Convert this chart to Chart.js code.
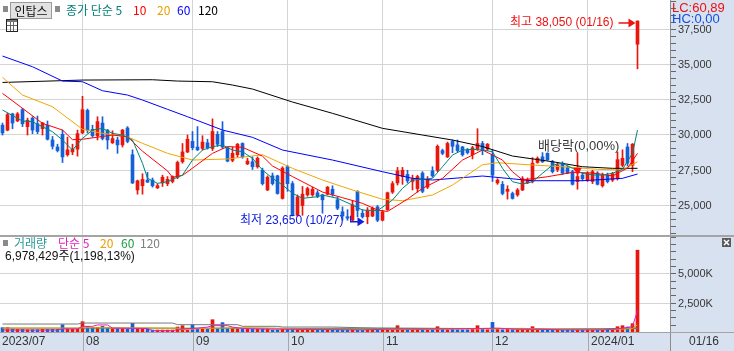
<!DOCTYPE html>
<html lang="ko">
<head>
<meta charset="UTF-8" />
<title>인탑스 일봉</title>
<style>
  html, body { margin: 0; padding: 0; background: #fff; }
  #wrap { position: relative; width: 734px; height: 351px; }
  canvas { display: block; }
</style>
</head>
<body>
<div id="wrap"><canvas id="chart" width="734" height="351"></canvas></div>

<script src="https://cdn.jsdelivr.net/npm/chart.js"></script>
<script>
  // ---- data ----
  const slotCount = 134; // 128 trading days + empty space on the right
  const monthIdx = [16, 38, 57, 76, 98, 117];
  const monthText = ['08', '09', '10', '11', '12', '2024/01'];
  const firstMonthText = '2023/07';
  const lastDateText = '01/16';

  const priceMin = 22780, priceMax = 39540;
  const priceTickStep = 500, priceLabelStep = 2500;
  const volMax = 8190; // thousands
  const volTickStep = 625, volLabels = [2500, 5000];

  const opens = [
    30650, 30300, 31450, 30950, 31750, 30550, 31150, 30750, 30400, 30650,
    29600, 29100, 30000, 28550, 28750, 28950, 30100, 31700, 30350, 29900,
    30800, 30300, 29400, 29600, 29250, 30450, 28550, 26050, 26350, 26750,
    26750, 26200, 26550, 26500, 26650, 26950, 28050, 28750, 29500, 29100,
    29000, 29400, 29000, 30000, 30200, 29050, 28150, 28550, 29350, 27900,
    28050, 27700, 27450, 26050, 27050, 27050, 25450, 27700, 26500, 24250,
    24950, 25700, 25700, 25850, 25700, 25750, 26100, 25350, 24500, 24150,
    23900, 25950, 24400, 24150, 24200, 24850, 23900, 24650, 25900, 26550,
    27000, 27150, 26650, 26150, 27250, 26250, 27400, 27450, 28850, 28400,
    29500, 29250, 29100, 28900, 28550, 28950, 29350, 28950, 28550, 26550,
    26450, 25950, 25800, 25700, 26050, 26550, 26650, 28000, 28400, 28650,
    28050, 27500, 27900, 27650, 27350, 26650, 27100, 26750, 26650, 27250,
    26350, 27100, 26750, 26850, 27800, 29100, 27800, 36400
  ];
  const highs = [
    30800, 31500, 31500, 31550, 31850, 31150, 31250, 31300, 30850, 30950,
    29850, 29300, 30300, 29800, 29300, 30300, 32700, 31800, 30650, 31250,
    31250, 30350, 30250, 29800, 30350, 30550, 28900, 26750, 27200, 27300,
    26900, 26500, 27100, 27000, 27050, 28100, 29350, 29950, 30200, 30550,
    29900, 29650, 31100, 30200, 30900, 29100, 29100, 29350, 29400, 28300,
    28400, 28400, 27600, 27050, 27250, 27100, 27700, 27800, 26650, 25700,
    26300, 26250, 26250, 26000, 25750, 26300, 26350, 25550, 24850, 24650,
    25300, 26000, 24650, 24800, 24850, 24950, 24600, 25900, 26650, 27650,
    27650, 27450, 27100, 27100, 27350, 27000, 27700, 29250, 28950, 29450,
    29600, 29600, 29150, 29000, 29150, 30400, 29500, 29350, 28900, 26850,
    26650, 26350, 25900, 26150, 27000, 26900, 28350, 28400, 28700, 28700,
    28150, 27950, 28050, 27750, 27450, 28650, 27250, 27350, 27450, 27350,
    27250, 27250, 27300, 28750, 28900, 29350, 29350, 38050
  ];
  const lows = [
    29950, 30250, 30400, 30900, 30550, 29950, 30050, 30050, 29950, 29600,
    28950, 28750, 28000, 28450, 28550, 28450, 30050, 30100, 29800, 29600,
    29600, 28950, 29350, 28650, 29100, 29400, 26500, 25750, 25750, 26600,
    26250, 26150, 26300, 26350, 26550, 26850, 27950, 28700, 28900, 28850,
    28900, 28950, 28850, 29150, 29000, 28050, 28050, 28400, 28300, 27850,
    27500, 27600, 26400, 26000, 26400, 25750, 25400, 25950, 24200, 24200,
    24250, 25600, 25600, 25500, 24400, 25700, 25600, 24650, 23900, 23900,
    23800, 24150, 24050, 23650, 24150, 23800, 23850, 24600, 25800, 26400,
    26450, 26550, 26050, 25900, 25850, 26150, 26950, 27350, 28550, 28350,
    28700, 28750, 28450, 28600, 28250, 28850, 28550, 28850, 26650, 26450,
    25700, 25400, 25400, 25600, 26000, 26500, 26550, 27950, 28000, 28150,
    27250, 27350, 27150, 27200, 26400, 26100, 26700, 26650, 26500, 26400,
    26250, 26550, 26650, 26750, 27700, 27750, 27350, 34650
  ];
  const closes = [
    30100, 31400, 30800, 31450, 30750, 31000, 30300, 30200, 30800, 29650,
    29150, 28850, 28400, 28900, 28950, 30050, 31750, 30300, 29900, 30900,
    29700, 29600, 29700, 29250, 30300, 29500, 26550, 26700, 26800, 26600,
    26350, 26350, 26950, 26800, 27000, 28000, 28750, 29650, 29050, 28900,
    29450, 29050, 30200, 29300, 29100, 28100, 28650, 29300, 28400, 28100,
    27700, 28300, 26500, 26950, 26500, 25800, 27600, 26500, 24250, 25550,
    25750, 26150, 26100, 25600, 25350, 26250, 25750, 24750, 24200, 24050,
    25000, 24600, 24150, 24600, 24750, 23900, 24500, 25850, 26500, 27400,
    27450, 26700, 26850, 27000, 25950, 26800, 27050, 29150, 28650, 29350,
    29150, 28850, 28550, 28700, 29050, 29350, 28850, 29300, 27100, 26750,
    25800, 26100, 25450, 26050, 26850, 26750, 27950, 28300, 28050, 28200,
    27350, 27800, 27250, 27250, 26450, 27000, 26850, 27250, 27350, 26450,
    27100, 26650, 27200, 28200, 28300, 27950, 29300, 38050
  ];
  // volume in thousands of shares
  const volumes = [
    370, 370, 256, 230, 230, 200, 200, 200, 230, 230,
    230, 230, 625, 285, 256, 285, 880, 480, 400, 400,
    480, 370, 285, 285, 285, 256, 740, 285, 285, 230,
    170, 170, 170, 170, 170, 425, 540, 170, 625, 310,
    285, 285, 1050, 310, 800, 285, 285, 256, 256, 256,
    230, 230, 285, 285, 170, 170, 230, 230, 285, 230,
    230, 200, 200, 200, 200, 200, 200, 170, 170, 170,
    200, 170, 170, 200, 170, 200, 200, 200, 230, 540,
    200, 200, 200, 230, 200, 170, 200, 455, 230, 200,
    230, 200, 200, 200, 230, 540, 230, 200, 820, 230,
    200, 230, 200, 200, 230, 200, 455, 200, 200, 200,
    170, 170, 170, 200, 200, 200, 170, 170, 200, 170,
    170, 200, 200, 455, 540, 425, 710, 6978
  ];

  // moving averages, read at sample points [day index, value]
  const ma5 = [[0,31725],[4,30944],[6,30895],[10,30185],[12,29595],[14,28885],[16,29716],[18,30305],[20,30426],[22,30071],[24,29950],[26,29595],[28,27941],[29,26876],[31,26521],[33,26635],[36,27110],[38,28175],[40,28885],[42,29120],[44,29240],[46,28885],[48,28765],[50,28296],[52,27465],[54,26876],[56,26400],[58,25810],[60,25456],[63,25570],[64,25690],[67,25456],[70,24980],[72,24625],[75,24575],[78,25335],[80,26166],[82,26755],[84,26805],[86,26876],[88,27700],[90,28530],[92,28885],[94,28935],[96,28885],[98,28765],[100,27586],[102,26635],[104,26470],[106,26635],[108,27231],[110,27820],[112,27940],[114,27586],[116,27231],[118,27110],[120,27110],[122,27231],[124,27515],[126,28651],[127,30305]];
  const ma10 = [[0,32911],[8,30781],[12,30305],[14,29620],[16,29650],[22,29950],[25,29830],[28,28800],[33,27400],[34,26950],[36,27080],[38,27600],[42,28651],[45,29130],[48,29080],[52,28450],[54,27750],[58,27000],[64,25900],[68,25500],[72,25100],[75,24625],[77,24520],[81,25400],[84,26166],[88,26876],[92,28175],[96,28885],[100,28175],[102,27345],[104,26755],[109,26990],[114,27300],[118,27250],[122,27050],[125,27600],[127,28650]];
  const ma20 = [[0,34047],[4,32790],[10,31960],[16,30355],[20,30071],[25,29830],[28,29361],[33,28651],[38,28175],[45,28250],[52,28550],[58,27586],[64,26755],[70,26045],[76,25385],[80,25286],[86,25690],[90,26400],[96,27840],[99,27984],[106,27820],[112,27700],[119,27515],[124,27465],[127,28055]];
  const ma60 = [[0,35559],[6,34800],[12,33784],[16,33735],[20,33096],[25,32790],[28,32435],[33,31775],[37,31250],[44,30305],[50,29787],[56,28885],[66,28175],[76,27345],[82,26876],[86,26755],[96,27039],[106,26706],[116,26706],[124,26876],[127,27181]];
  const ma120 = [[0,33685],[16,33855],[30,33877],[35,33784],[42,33735],[46,33500],[50,33216],[58,32293],[66,31491],[76,30426],[84,29950],[90,29595],[96,29134],[102,28459],[110,28055],[116,27700],[122,27586],[127,27586]];

  const volMa5 = [[0,170],[11,170],[12,260],[15,260],[16,480],[18,480],[19,600],[21,600],[22,330],[29,300],[30,120],[34,120],[36,260],[39,330],[41,420],[42,540],[45,540],[46,420],[48,300],[52,250],[58,230],[66,200],[72,180],[78,250],[84,240],[88,260],[96,300],[99,330],[103,230],[107,240],[112,180],[120,180],[123,260],[125,390],[126,470],[127,1820]];
  const volMa20 = [[0,330],[15,330],[16,370],[35,330],[36,200],[40,300],[47,370],[52,330],[60,250],[70,220],[80,230],[95,260],[105,270],[115,230],[122,210],[126,290],[127,620]];
  const volMa60 = [[0,330],[30,330],[35,320],[50,330],[60,300],[75,320],[90,300],[104,300],[105,250],[120,240],[127,350]];
  const volMa120 = [[0,680],[15,680],[16,765],[34,765],[35,625],[47,625],[48,485],[55,485],[56,425],[66,425],[75,330],[90,300],[104,300],[110,250],[127,300]];

  const exDivIdx = 115;
  const exDivPrice = 27450;
  const highIdx = 127, highPrice = 38050;
  const lowIdx = 73, lowPrice = 23650;

  // ---- colours / fonts ----
  const UP = '#e8160c';
  const DOWN = '#1560d8';
  const PANEL = '#d8e1ef';
  const GRID = '#d4d4d4';
  const NUM = '"Liberation Sans", "Noto Sans CJK KR", sans-serif';
  const KR = '"Noto Sans CJK KR", "Liberation Sans", sans-serif';

  const candleColors = closes.map((c, i) => (c >= opens[i] ? UP : DOWN));
  const slots = Array.from({ length: slotCount }, (_, i) => 'd' + i);

  function sparse(pairs) {
    const arr = new Array(slotCount).fill(null);
    pairs.forEach(([i, v]) => { arr[i] = v; });
    return arr;
  }

  function maLine(pairs, color, axis) {
    return {
      type: 'line',
      data: sparse(pairs),
      yAxisID: axis,
      borderColor: color,
      borderWidth: 1,
      pointRadius: 0,
      spanGaps: true,
      tension: 0,
      order: 1
    };
  }

  function txt(ctx, s, x, y, color, font, align) {
    ctx.font = font;
    ctx.fillStyle = color;
    ctx.textAlign = align || 'left';
    ctx.textBaseline = 'middle';
    ctx.fillText(s, x, y);
  }

  function arrowRight(ctx, x0, x1, y, color) {
    ctx.strokeStyle = color;
    ctx.fillStyle = color;
    ctx.lineWidth = 1.5;
    ctx.beginPath();
    ctx.moveTo(x0, y);
    ctx.lineTo(x1 - 6, y);
    ctx.stroke();
    ctx.beginPath();
    ctx.moveTo(x1, y);
    ctx.lineTo(x1 - 7, y - 4.5);
    ctx.lineTo(x1 - 7, y + 4.5);
    ctx.closePath();
    ctx.fill();
  }

  // tick values for the right-hand axes
  function stepsBetween(lo, hi, step) {
    const out = [];
    for (let v = Math.ceil(lo / step) * step; v <= hi; v += step) out.push(v);
    return out;
  }

  const deco = {
    id: 'deco',
    beforeDraw(chart) {
      const { ctx, chartArea: a, width, height } = chart;
      ctx.save();
      ctx.fillStyle = '#fff';
      ctx.fillRect(0, 0, width, height);
      ctx.fillStyle = PANEL;
      ctx.fillRect(a.right, 0, width - a.right, height);
      ctx.fillRect(0, a.bottom, width, height - a.bottom);
      ctx.restore();
    },
    beforeDatasetsDraw(chart) {
      const { ctx, chartArea: a } = chart;
      const ys = chart.scales.y, vs = chart.scales.v;
      ctx.save();
      ctx.fillStyle = GRID;
      stepsBetween(priceMin, priceMax, priceLabelStep).forEach(v => {
        ctx.fillRect(a.left, Math.round(ys.getPixelForValue(v)), a.right - a.left, 1);
      });
      volLabels.forEach(v => {
        ctx.fillRect(a.left, Math.round(vs.getPixelForValue(v)), a.right - a.left, 1);
      });
      ctx.restore();
    },
    afterDraw(chart) {
      const { ctx, chartArea: a, width, height } = chart;
      const xs = chart.scales.x, ys = chart.scales.y, vs = chart.scales.v;
      ctx.save();

      // right axes: border, ticks, labels
      ctx.fillStyle = '#8c8c8c';
      ctx.fillRect(a.right, 0, 1, height);
      ctx.fillStyle = '#666';
      stepsBetween(priceMin, priceMax, priceTickStep).forEach(v => {
        ctx.fillRect(a.right + 1, Math.round(ys.getPixelForValue(v)), 5, 1);
      });
      stepsBetween(0, volMax, volTickStep).forEach(v => {
        ctx.fillRect(a.right + 1, Math.round(vs.getPixelForValue(v)), 5, 1);
      });
      stepsBetween(priceMin, priceMax, priceLabelStep).forEach(v => {
        txt(ctx, v.toLocaleString('en-US'), a.right + 8, Math.round(ys.getPixelForValue(v)) + 1, '#383838', '11px ' + NUM);
      });
      volLabels.forEach(v => {
        txt(ctx, v.toLocaleString('en-US') + 'K', a.right + 8, Math.round(vs.getPixelForValue(v)) + 1, '#383838', '11px ' + NUM);
      });

      // panel separators
      ctx.fillStyle = '#a4a4a4';
      ctx.fillRect(0, Math.round(vs.top) - 1, width, 2);
      ctx.fillRect(0, a.bottom, width, 1);

      // date band
      ctx.fillStyle = '#a8a8a8';
      monthIdx.forEach(i => {
        const x = Math.round(xs.getPixelForValue(i));
        ctx.fillRect(x, a.bottom, 1, height - a.bottom);
      });
      const by = a.bottom + 10;
      txt(ctx, firstMonthText, 2, by, '#333', '12px ' + NUM);
      monthIdx.forEach((i, k) => {
        txt(ctx, monthText[k], Math.round(xs.getPixelForValue(i)) + 3, by, '#333', '12px ' + NUM);
      });
      txt(ctx, lastDateText, a.right + 19, by, '#333', '12px ' + NUM);

      // price header
      ctx.fillStyle = '#8a8a8a';
      ctx.fillRect(3, 6, 5, 6);
      ctx.fillRect(55, 6, 5, 6);
      ctx.fillStyle = '#e2e2e2';
      ctx.fillRect(10.5, 2.5, 41, 16);
      ctx.strokeStyle = '#9a9a9a';
      ctx.lineWidth = 1;
      ctx.strokeRect(10.5, 2.5, 41, 16);
      txt(ctx, '인탑스', 31, 11, '#111', '12px ' + KR, 'center');
      txt(ctx, '종가 단순 5', 66, 10, '#00807a', '12px ' + KR);
      txt(ctx, '10', 133, 10, '#ff0000', '12px ' + KR);
      txt(ctx, '20', 157, 10, '#e8a000', '12px ' + KR);
      txt(ctx, '60', 177, 10, '#0000ff', '12px ' + KR);
      txt(ctx, '120', 198, 10, '#000', '12px ' + KR);
      // table icon
      ctx.strokeStyle = '#222';
      ctx.strokeRect(6.5, 19.5, 11, 12);
      ctx.fillStyle = '#777';
      ctx.fillRect(7, 20, 10, 2);
      ctx.strokeStyle = '#666';
      ctx.beginPath();
      ctx.moveTo(7, 25.5); ctx.lineTo(17, 25.5);
      ctx.moveTo(10.5, 22); ctx.lineTo(10.5, 31);
      ctx.moveTo(13.5, 22); ctx.lineTo(13.5, 31);
      ctx.stroke();

      // LC / HC (drawn over the top axis label)
      txt(ctx, 'LC:60,89', a.right + 2, 8, '#ee1111', '13px ' + NUM);
      txt(ctx, 'HC:0,00', a.right + 2, 19, '#1050e0', '13px ' + NUM);

      // high / low annotations
      const hx = xs.getPixelForValue(highIdx) - 2;
      const hy = ys.getPixelForValue(highPrice) + 2;
      txt(ctx, '최고 38,050 (01/16)', hx - 22, hy, '#ee1111', '12px ' + NUM, 'right');
      arrowRight(ctx, hx - 17, hx, hy, '#ee1111');

      const lx = xs.getPixelForValue(lowIdx) - 3;
      const ly = ys.getPixelForValue(lowPrice) - 2;
      txt(ctx, '최저 23,650 (10/27)', 240, ly - 1, '#1020e0', '12px ' + NUM);
      ctx.strokeStyle = '#1020e0';
      ctx.lineWidth = 1;
      ctx.beginPath();
      ctx.moveTo(350.5, ly - 6); ctx.lineTo(350.5, ly);
      ctx.stroke();
      arrowRight(ctx, 350, lx, ly, '#1020e0');

      // ex-dividend label
      txt(ctx, '배당락(0,00%)', 538, 146, '#3a3a3a', '13px ' + NUM);

      // volume header
      ctx.fillStyle = '#8a8a8a';
      ctx.fillRect(3, 240, 5, 6);
      txt(ctx, '거래량', 14, 243, '#2a9a9a', '12px ' + KR);
      txt(ctx, '단순 5', 58, 243, '#e020c0', '12px ' + KR);
      txt(ctx, '20', 100, 243, '#e8a000', '12px ' + KR);
      txt(ctx, '60', 121, 243, '#18a040', '12px ' + KR);
      txt(ctx, '120', 140, 243, '#808080', '12px ' + KR);
      txt(ctx, '6,978,429주(1,198,13%)', 5, 257, '#111', '12px ' + NUM);

      // close box of volume pane
      ctx.fillStyle = '#5a5a5a';
      ctx.fillRect(722, 238, 9, 9);
      ctx.strokeStyle = '#fff';
      ctx.beginPath();
      ctx.moveTo(724, 240); ctx.lineTo(729, 245);
      ctx.moveTo(729, 240); ctx.lineTo(724, 245);
      ctx.stroke();

      ctx.restore();
    }
  };

  const hiddenAxis = {
    ticks: { display: false },
    grid: { display: false },
    border: { display: false },
    afterFit: s => { s.width = 64; }
  };

  new Chart(document.getElementById('chart'), {
    type: 'bar',
    data: {
      labels: slots,
      datasets: [
        maLine(ma5, '#00857a', 'y'),
        maLine(ma10, '#ff0000', 'y'),
        maLine(ma20, '#f0a800', 'y'),
        maLine(ma60, '#0000ff', 'y'),
        maLine(ma120, '#000000', 'y'),
        {
          type: 'line',
          data: sparse([[exDivIdx, exDivPrice]]),
          yAxisID: 'y',
          showLine: false,
          pointStyle: 'triangle',
          rotation: 180,
          pointRadius: 5,
          pointBackgroundColor: '#ff1010',
          pointBorderWidth: 0,
          order: 0
        },
        {
          data: lows.map((l, i) => [l, highs[i]]),
          yAxisID: 'y',
          backgroundColor: candleColors,
          barThickness: 1,
          grouped: false,
          order: 5
        },
        {
          data: opens.map((o, i) => [o, closes[i]]),
          yAxisID: 'y',
          backgroundColor: candleColors,
          barThickness: 3,
          minBarLength: 1,
          grouped: false,
          order: 4
        },
        {
          data: volumes,
          yAxisID: 'v',
          backgroundColor: candleColors,
          barThickness: 3,
          grouped: false,
          order: 4
        },
        maLine(volMa5, '#e020c0', 'v'),
        maLine(volMa20, '#f0a000', 'v'),
        maLine(volMa60, '#1f9a3a', 'v'),
        maLine(volMa120, '#7a7a7a', 'v')
      ]
    },
    options: {
      responsive: false,
      animation: false,
      events: [],
      layout: { padding: 0, autoPadding: false },
      plugins: {
        legend: { display: false },
        tooltip: { enabled: false }
      },
      scales: {
        x: {
          type: 'category',
          offset: true,
          grid: {
            offset: false,
            drawTicks: false,
            color: ctx => (monthIdx.includes(ctx.index) ? GRID : 'rgba(0,0,0,0)')
          },
          border: { display: false },
          ticks: { display: false, autoSkip: false },
          afterFit: s => { s.height = 19; }
        },
        y: Object.assign({
          type: 'linear',
          position: 'right',
          stack: 'panes',
          stackWeight: 236,
          min: priceMin,
          max: priceMax
        }, hiddenAxis),
        v: Object.assign({
          type: 'linear',
          position: 'right',
          stack: 'panes',
          stackWeight: 96,
          min: 0,
          max: volMax
        }, hiddenAxis)
      }
    },
    plugins: [deco]
  });
</script>
</body>
</html>
